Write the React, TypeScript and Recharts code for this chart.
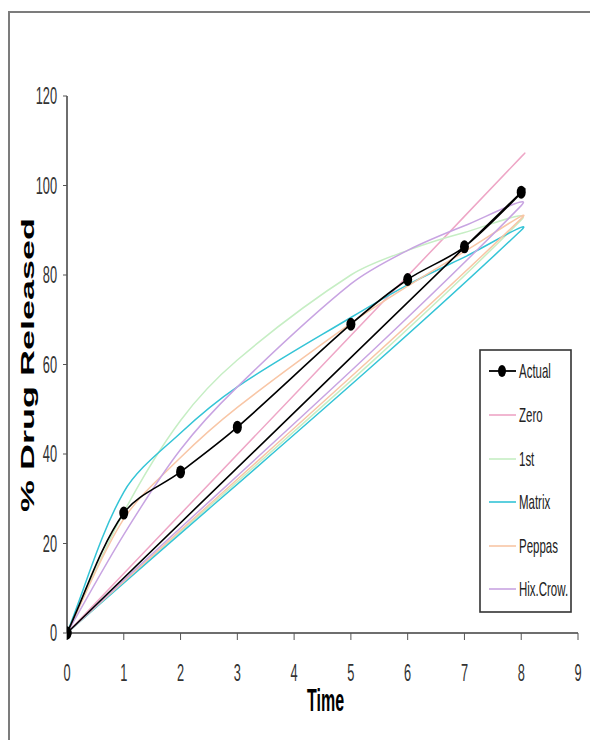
import React from 'react';
import { LineChart, Line, XAxis, YAxis, Legend } from 'recharts';

// sampling times (h) – there is no reading at 4
const times = [0, 1, 2, 3, 5, 6, 7, 8];

const actual = [0, 26.8, 36, 46, 69, 79, 86.3, 98.5];
const zero = [0, 13.3, 26.6, 39.9, 66.5, 79.8, 93.1, 106.4];
const firstOrder = [0, 27, 47.5, 61, 80, 85.5, 89.5, 92.3];
const matrix = [0, 31.5, 44.7, 55, 70.5, 77.8, 84, 90];
const peppas = [0, 25.5, 39.2, 50.4, 69.2, 77.5, 85.2, 92.6];
const hixCrow = [0, 22, 41, 55, 78, 85.5, 91, 95.5];

const xTicks = [0, 1, 2, 3, 4, 5, 6, 7, 8, 9];
const yTicks = [0, 20, 40, 60, 80, 100, 120];

const seriesNames = ['Actual', 'Zero', '1st', 'Matrix', 'Peppas', 'Hix.Crow.'];
const seriesValues = [actual, zero, firstOrder, matrix, peppas, hixCrow];
const seriesColors = ['#000000', '#eea6c6', '#c6eec4', '#34c4d6', '#f8c6a6', '#c8a4e2'];

// the sheet's range wraps back to the first row, so each series closes on itself
const loop = (values: number[]) => [
  ...times.map((t, i) => ({ t, v: values[i] })),
  { t: times[0], v: values[0] },
];

// Excel-ish smoothed scatter line (bezier, tangent from neighbours)
const SMOOTH = 0.32;
const excelSmooth = (context: any) => {
  let pts: number[][] = [];
  return {
    areaStart() {},
    areaEnd() {},
    lineStart() {
      pts = [];
    },
    point(x: number, y: number) {
      pts.push([+x, +y]);
    },
    lineEnd() {
      const n = pts.length;
      if (!n) return;
      context.moveTo(pts[0][0], pts[0][1]);
      const dir = (i: number) => {
        const a = pts[Math.max(i - 1, 0)];
        const b = pts[Math.min(i + 1, n - 1)];
        const dx = b[0] - a[0];
        const dy = b[1] - a[1];
        const len = Math.hypot(dx, dy) || 1;
        return [dx / len, dy / len];
      };
      for (let i = 0; i < n - 1; i++) {
        const p = pts[i];
        const q = pts[i + 1];
        const s = Math.hypot(q[0] - p[0], q[1] - p[1]) * SMOOTH;
        const d1 = dir(i);
        const d2 = dir(i + 1);
        context.bezierCurveTo(
          p[0] + d1[0] * s, p[1] + d1[1] * s,
          q[0] - d2[0] * s, q[1] - d2[1] * s,
          q[0], q[1]
        );
      }
    },
  };
};

const narrow = "'Liberation Sans', Arial, sans-serif";

const XTick = ({ x, y, payload }: any) => (
  <text
    transform={`translate(${x},${y + 41}) scale(0.8,1.48)`}
    textAnchor="middle"
    fontFamily={narrow}
    fontSize={16}
    fill="#333"
  >
    {payload.value}
  </text>
);

const YTick = ({ x, y, payload }: any) => (
  <text
    transform={`translate(${x},${y + 8}) scale(0.8,1.45)`}
    textAnchor="end"
    fontFamily={narrow}
    fontSize={16}
    fill="#333"
  >
    {payload.value}
  </text>
);

const ActualDot = (props: any) => {
  const { cx, cy, index } = props;
  if (cx == null || cy == null) return <g key={`d-${index}`} />;
  return <ellipse key={`d-${index}`} cx={cx} cy={cy} rx={4.5} ry={6.5} fill="#000" />;
};

const LegendBox = () => {
  const rowY = [22, 66, 110, 153, 197, 240];
  return (
    <svg width={94} height={265} style={{ display: 'block' }}>
      <rect x={1} y={1} width={91} height={262} fill="#fff" stroke="#333" strokeWidth={1.6} />
      {seriesNames.map((name, i) => (
        <g key={name}>
          <line x1={10} x2={37} y1={rowY[i]} y2={rowY[i]} stroke={seriesColors[i]} strokeWidth={i === 0 ? 1.8 : 1.6} />
          {i === 0 && <ellipse cx={23} cy={rowY[i]} rx={4} ry={6} fill="#000" />}
          <text
            transform={`translate(40,${rowY[i] + 7}) scale(0.82,1.5)`}
            fontFamily={narrow}
            fontSize={14}
            fill="#222"
          >
            {name}
          </text>
        </g>
      ))}
    </svg>
  );
};

const YTitle = () => (
  <text
    transform="translate(34,365) rotate(-90)"
    textAnchor="middle"
    fontFamily="'Liberation Sans', Arial, sans-serif"
    fontWeight="bold"
    fontSize={19}
    textLength={294}
    lengthAdjust="spacingAndGlyphs"
    fill="#000"
  >
    % Drug Released
  </text>
);

const XTitle = () => (
  <text
    transform="translate(307,711) scale(0.8,1.6)"
    fontFamily="'Liberation Sans', Arial, sans-serif"
    fontWeight="bold"
    fontSize={20}
    fill="#000"
  >
    Time
  </text>
);

export default function App() {
  const order = [1, 2, 3, 4, 5, 0];
  return (
    <div style={{ position: 'absolute', left: 0, top: 0, width: 590, height: 740, overflow: 'hidden', background: '#fff' }}>
      <div
        style={{
          position: 'absolute',
          left: -1,
          top: -16,
          fontFamily: "'Liberation Serif', serif",
          fontWeight: 'bold',
          fontSize: 18,
          whiteSpace: 'nowrap',
        }}
      >
        formulation F3
      </div>
      <div
        style={{
          position: 'absolute',
          left: 8,
          top: 11,
          width: 600,
          height: 760,
          borderLeft: '2px solid #7c7c7c',
          borderTop: '2px solid #7c7c7c',
        }}
      />
      <div style={{ position: 'absolute', left: 0, top: 0 }}>
        <LineChart width={590} height={740} margin={{ top: 96, right: 12, bottom: 77, left: 17 }}>
          <XAxis
            type="number"
            dataKey="t"
            domain={[0, 9]}
            ticks={xTicks}
            interval={0}
            allowDataOverflow
            height={30}
            axisLine={{ stroke: '#6e6e6e', strokeWidth: 2 }}
            tickLine={{ stroke: '#555' }}
            tickSize={7}
            tickMargin={0}
            tick={<XTick />}
            label={{ content: <XTitle /> }}
          />
          <YAxis
            type="number"
            dataKey="v"
            domain={[0, 120]}
            ticks={yTicks}
            interval={0}
            width={50}
            axisLine={{ stroke: '#6e6e6e', strokeWidth: 2 }}
            tickLine={{ stroke: '#555' }}
            tickSize={4}
            tickMargin={6}
            tick={<YTick />}
            label={{ content: <YTitle /> }}
          />
          {order.map((i) => (
            <Line
              key={seriesNames[i]}
              data={loop(seriesValues[i])}
              dataKey="v"
              name={seriesNames[i]}
              type={excelSmooth as any}
              stroke={seriesColors[i]}
              strokeWidth={i === 0 ? 1.6 : 1.5}
              dot={i === 0 ? ActualDot : false}
              activeDot={false}
              isAnimationActive={false}
            />
          ))}
          <Legend
            layout="vertical"
            align="center"
            verticalAlign="middle"
            content={<LegendBox />}
            wrapperStyle={{ position: 'absolute', left: 479, top: 349, width: 94, height: 265 }}
          />
        </LineChart>
      </div>
    </div>
  );
}
